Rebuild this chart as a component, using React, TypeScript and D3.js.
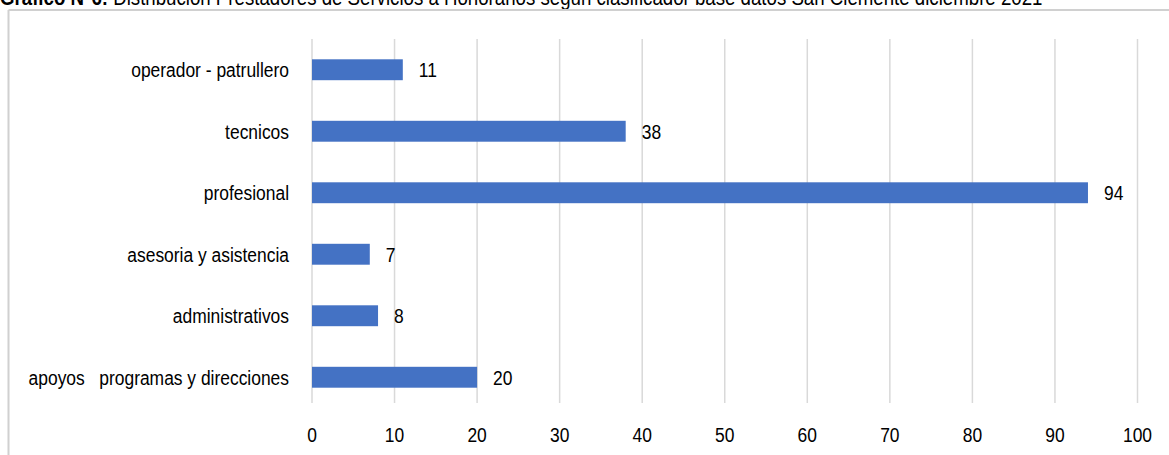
import React from "react";
import * as d3 from "d3";

const categories = [
  "operador - patrullero",
  "tecnicos",
  "profesional",
  "asesoria y asistencia",
  "administrativos",
  "apoyos   programas y direcciones",
];
const values = [11, 38, 94, 7, 8, 20];
const xTicks = [0, 10, 20, 30, 40, 50, 60, 70, 80, 90, 100];
const titleBold = "Gráfico N°6:";
const titleRest = " Distribución Prestadores de Servicios a Honorarios según clasificador base datos San Clemente diciembre 2021";

const W = 1169;
const H = 455;
const FONT = "'Liberation Sans Narrow', 'Arial Narrow', 'Liberation Sans', Arial, sans-serif";
const SX = 0.83;

function NText(props: { x: number; y: number; anchor?: string; size: number; dy?: string; children: React.ReactNode; weight?: string }) {
  return (
    <g transform={`translate(${props.x},${props.y}) scale(${SX},1)`}>
      <text
        x={0}
        y={0}
        dy={props.dy}
        textAnchor={props.anchor || "start"}
        fontSize={props.size}
        fill="#000"
        style={{ whiteSpace: "pre" }}
      >
        {props.children}
      </text>
    </g>
  );
}

export default function App() {
  const x = d3.scaleLinear().domain([0, 100]).range([312, 1137.5]);
  const y = d3.scaleBand().domain(categories).range([39, 408]).paddingInner(0.66).paddingOuter(0.33);
  const bw = y.bandwidth();
  return (
    <svg width={W} height={H} style={{ position: "absolute", left: 0, top: 0 }} fontFamily={FONT}>
      <rect x={0} y={0} width={W} height={H} fill="#fff" />
      <NText x={0} y={5} size={22.5}>
        <tspan fontWeight="bold">{titleBold}</tspan>
        <tspan>{titleRest}</tspan>
      </NText>
      <line x1={8.5} y1={10} x2={W} y2={10} stroke="#d0d0d0" strokeWidth={2} />
      <line x1={8.5} y1={10} x2={8.5} y2={H} stroke="#d0d0d0" strokeWidth={2} />
      {xTicks.map((t) => (
        <g key={t}>
          <line x1={x(t)} x2={x(t)} y1={39} y2={403} stroke="#d9d9d9" strokeWidth={1.5} />
          <NText x={x(t)} y={442} anchor="middle" size={21}>{t}</NText>
        </g>
      ))}
      {categories.map((c, i) => {
        const yy = y(c)!;
        return (
          <g key={c}>
            <rect x={x(0)} y={yy} width={x(values[i]) - x(0)} height={bw} fill="#4472C4" />
            <NText x={289} y={yy + bw / 2} dy="0.35em" anchor="end" size={21}>{c}</NText>
            <NText x={x(values[i]) + 16} y={yy + bw / 2} dy="0.35em" size={21}>{values[i]}</NText>
          </g>
        );
      })}
    </svg>
  );
}
